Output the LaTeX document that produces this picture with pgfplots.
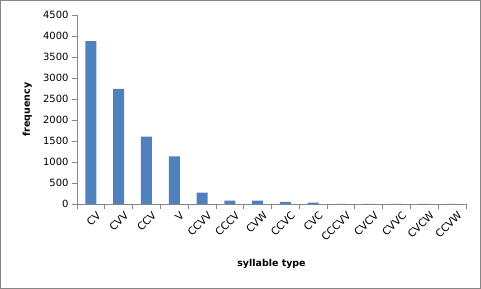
\documentclass[border=0pt]{standalone}
\usepackage{pgfplots}
\pgfplotsset{compat=1.18}
\usepackage{fontspec}
\setmainfont{DejaVu Sans}
\definecolor{barblue}{HTML}{4F81BD}
\definecolor{axgray}{HTML}{868686}
\begin{document}
\begin{tikzpicture}
\path[use as bounding box] (0,0) rectangle (481bp,289bp);
\draw[axgray, line width=0.8bp] (0.5bp,0.5bp) rectangle (480.5bp,288.5bp);
\begin{axis}[
  at={(77bp,85bp)}, anchor=south west,
  scale only axis, width=389bp, height=189bp,
  xmin=-0.5, xmax=13.5, ymin=0, ymax=4500,
  axis x line*=bottom, axis y line*=left,
  axis line style={axgray, line width=0.8bp, -},
  ytick={0,500,...,4500},
  xtick={0,...,13},
  xticklabels={CV,CVV,CCV,V,CCVV,CCCV,CVW,CCVC,CVC,CCCVV,CVCV,CVVC,CVCW,CCVW},
  minor xtick={-0.5,0.5,...,13.5},
  major x tick style={draw=none},
  minor x tick style={axgray, line width=0.8bp},
  minor tick length=5bp,
  y tick style={axgray, line width=0.8bp},
  major tick length=5bp,
  tick align=outside,
  xticklabel style={rotate=45, anchor=north east, font=\fontsize{10.5}{11}\selectfont, inner sep=0.5pt, yshift=-4bp, xshift=3bp},
  yticklabel style={font=\fontsize{10}{11}\selectfont},
  /pgf/number format/assume math mode=true,
  scaled y ticks=false,
  yticklabel={\pgfmathprintnumber[fixed,1000 sep={}]{\tick}},
  xlabel={syllable type}, ylabel={frequency},
  xlabel style={font=\bfseries\fontsize{9.5}{10}\selectfont, at={(axis description cs:0.5,-0.317)}, anchor=center},
  ylabel style={font=\bfseries\fontsize{9.5}{10}\selectfont, at={(axis description cs:-0.128,0.5)}, anchor=center, rotate=0},
  ybar, bar width=11bp,
  clip=false,
]
\addplot[fill=barblue, draw=none] coordinates {
 (0,3880) (1,2740) (2,1605) (3,1135) (4,272) (5,80) (6,80) (7,50) (8,30) (9,5) (10,3) (11,3) (12,2) (13,2)
};
\end{axis}
\end{tikzpicture}
\end{document}
